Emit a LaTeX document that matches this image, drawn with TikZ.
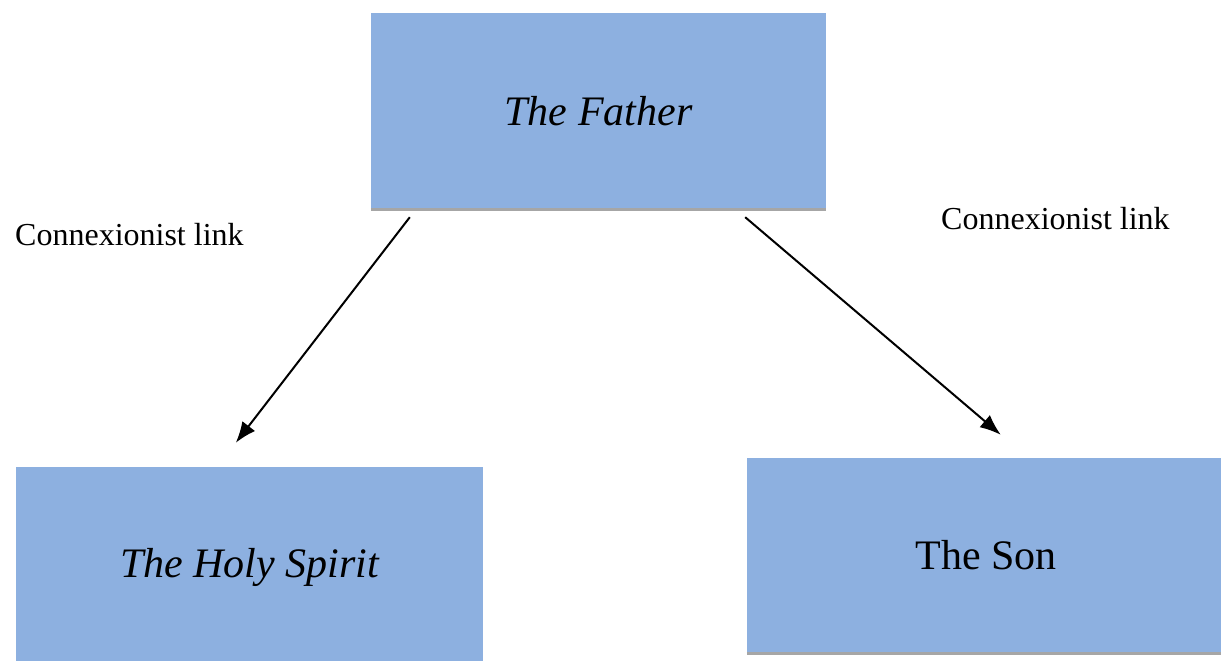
\documentclass[tikz,border=0pt]{standalone}
\usepackage{fontspec}
\setmainfont{Liberation Serif}
\usetikzlibrary{arrows.meta}
\definecolor{boxblue}{HTML}{8DB0E0}
\tikzset{
    person/.style={fill=boxblue, inner sep=0pt, font=\fontsize{42}{50}\selectfont},
    linklabel/.style={inner sep=0pt, font=\fontsize{32}{38}\selectfont},
    shadowline/.style={draw=gray!70, line width=3pt}
}
\begin{document}
\begin{tikzpicture}[x=1pt, y=-1pt, >={Latex[length=21pt,width=16pt]}]
\useasboundingbox (0,0) rectangle (1221,661);
\node[person, minimum width=455pt, minimum height=196pt] (father) at (598.5,111) {\itshape The Father};
\node[person, minimum width=467pt, minimum height=200pt] (spirit) at (249.5,567) {\itshape The Holy Spirit};
\node[person, minimum width=474pt, minimum height=195pt] (son) at (984,555.5) {\hspace*{4pt}The Son};
\draw[shadowline] (father.south west)--(father.south east);
\draw[shadowline] (son.south west)--(son.south east);
\node[linklabel, anchor=base west] (linkleft) at (15,245) {Connexionist link};
\node[linklabel, anchor=base west] (linkright) at (941,229) {Connexionist link};
\draw[->, line width=2pt]([xshift=39pt, yshift=-8pt]father.south west)--([xshift=220pt, yshift=24pt]spirit.north west);
\draw[->, line width=2pt]([xshift=-81pt, yshift=-8pt]father.south east)--([xshift=254pt, yshift=23pt]son.north west);

\end{tikzpicture}
\end{document}
